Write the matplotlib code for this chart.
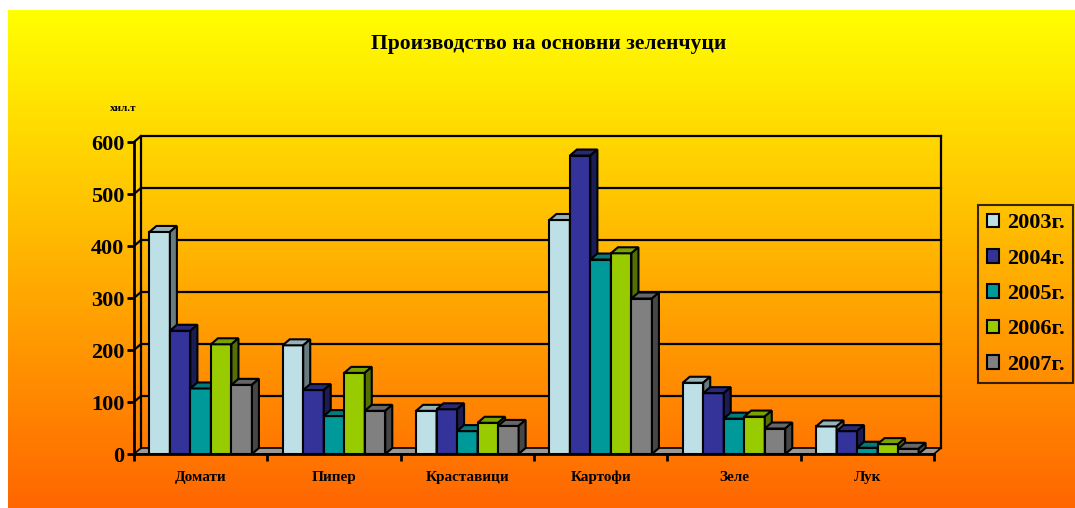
import matplotlib
matplotlib.use('Agg')
import matplotlib.pyplot as plt
import numpy as np
from matplotlib.patches import Polygon, Patch
from matplotlib.colors import to_rgb

categories = ['Домати', 'Пипер', 'Краставици', 'Картофи', 'Зеле', 'Лук']
years = ['2003г.', '2004г.', '2005г.', '2006г.', '2007г.']
v2003 = [427, 209, 83, 450, 137, 53]
v2004 = [237, 123, 86, 574, 117, 44]
v2005 = [126, 73, 44, 374, 68, 12]
v2006 = [211, 156, 60, 386, 72, 19]
v2007 = [133, 83, 54, 299, 49, 10]
colors = ['#BDE0E6', '#333399', '#009999', '#99CC00', '#808080']

series = [v2003, v2004, v2005, v2006, v2007]
serif = 'Liberation Serif'

fig = plt.figure(figsize=(10.75, 5.08), dpi=100)

# gradient background (yellow -> orange)
bg = fig.add_axes([8 / 1075, 0, 1 - 8 / 1075, 498 / 508], zorder=-10)
top = np.array(to_rgb('#FFFF00'))
bot = np.array(to_rgb('#FF6600'))
t = np.linspace(0, 1, 256)[:, None]
grad = (top * (1 - t) + bot * t)[:, None, :]
bg.imshow(grad, aspect='auto', extent=[0, 1, 0, 1])
bg.axis('off')

ax = fig.add_axes([134 / 1075, 54 / 508, 800 / 1075, 312 / 508])
ax.set_facecolor('none')
ax.set_xlim(0, 6)
ax.set_ylim(0, 600)

# depth of the fake 3d look, in data units (~7px right, ~6px up)
dx = 7 / 800 * 6
dy = 6 / 312 * 600

# floor
ax.add_patch(Polygon([(0, 0), (6, 0), (6 + dx, dy), (dx, dy)], closed=True,
                     facecolor='#999999', edgecolor='black', lw=1.2, zorder=1, clip_on=False))
# back wall grid lines and outline
for v in range(100, 601, 100):
    ax.plot([0, dx, 6 + dx], [v, v + dy, v + dy], color='black', lw=1.6, zorder=1, clip_on=False)
ax.plot([dx, dx], [dy, 600 + dy], color='black', lw=1.6, zorder=1, clip_on=False)
ax.plot([6 + dx, 6 + dx], [dy, 600 + dy], color='black', lw=1.6, zorder=1, clip_on=False)

# bars
n = len(series)
w = 1 / (n + 1.5)
x = np.arange(len(categories)) + 0.5
z = 2
for i in range(len(categories)):
    for j in range(n):
        val = series[j][i]
        c = np.array(to_rgb(colors[j]))
        x0 = x[i] + (j - n / 2) * w
        x1 = x0 + w
        ax.bar(x0, val, width=w, align='edge', color=c, edgecolor='black', lw=1.5, zorder=z)
        ax.add_patch(Polygon([(x0, val), (x1, val), (x1 + dx, val + dy), (x0 + dx, val + dy)],
                             closed=True, facecolor=c * 0.8, edgecolor='black', lw=1.5,
                             zorder=z, clip_on=False))
        ax.add_patch(Polygon([(x1, 0), (x1 + dx, dy), (x1 + dx, val + dy), (x1, val)],
                             closed=True, facecolor=c * 0.55, edgecolor='black', lw=1.5,
                             zorder=z, clip_on=False))
        z += 1

# axes styling
for s in ['top', 'right']:
    ax.spines[s].set_visible(False)
for s in ['left', 'bottom']:
    ax.spines[s].set_linewidth(2)
    ax.spines[s].set_zorder(z + 1)
ax.set_yticks(range(0, 601, 100))
ax.set_yticklabels([str(v) for v in range(0, 601, 100)], fontsize=16, fontweight='bold', family=serif)
ax.tick_params(axis='y', length=5, width=2, pad=2)
ax.set_xticks(range(0, 7))
ax.set_xticklabels([])
ax.tick_params(axis='x', which='major', length=5, width=2)
ax.set_xticks(x, minor=True)
ax.set_xticklabels(categories, minor=True, fontsize=11, fontweight='bold', family=serif)
ax.tick_params(axis='x', which='minor', length=0, pad=12)

fig.text(548.5 / 1075, 1 - 44 / 508, 'Производство на основни зеленчуци', ha='center', va='center',
         fontsize=15.5, fontweight='bold', family=serif)
fig.text(123 / 1075, 1 - 108 / 508, 'хил.т', ha='center', va='center',
         fontsize=8, fontweight='bold', family=serif)

handles = [Patch(facecolor=c, edgecolor='black', lw=1.5) for c in colors]
leg = fig.legend(handles, years, loc='center', bbox_to_anchor=(1025.5 / 1075, 1 - 294 / 508),
                 prop={'family': serif, 'weight': 'bold', 'size': 16},
                 frameon=True, fancybox=False, handlelength=0.55, handleheight=0.55,
                 handletextpad=0.35, labelspacing=0.69, borderpad=0.38, borderaxespad=0)
leg.get_frame().set_edgecolor('black')
leg.get_frame().set_linewidth(1.5)
leg.get_frame().set_facecolor('none')

fig.savefig('out.png', dpi=100)
